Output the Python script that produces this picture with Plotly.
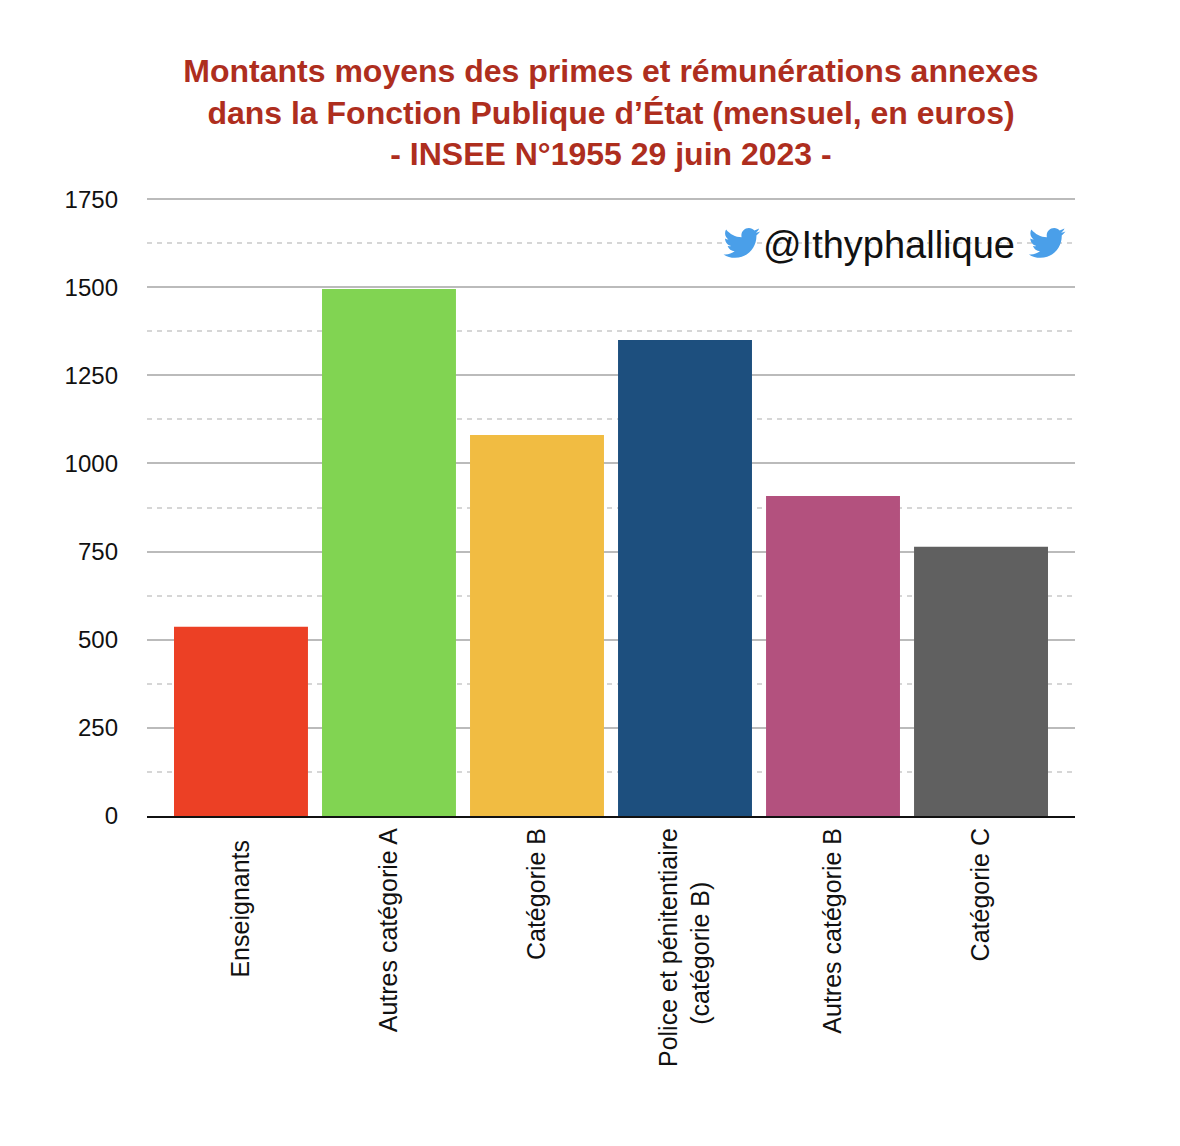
"""
Primes et rémunérations annexes moyennes dans la FPE (INSEE N°1955).
"""

import base64
import plotly.graph_objects as go

PAD = '\u00a0'  # non-breaking space, used to shift rotated labels off the axis

categories = ['Enseignants' + PAD + '\u2009', 'Autres catégorie A', 'Catégorie B',
              'Police et pénitentiaire<br>(catégorie B)' + PAD * 7 + '\u2009',
              'Autres catégorie B', 'Catégorie C']
montants = [537, 1495, 1081, 1350, 908, 764]
couleurs = ['#EC4025', '#81D452', '#F1BC42', '#1D4F7E', '#B3517E', '#606060']
y_ticks = [0, 250, 500, 750, 1000, 1250, 1500, 1750]

TITLE = ("Montants moyens des primes et rémunérations annexes<br>"
         "dans la Fonction Publique d’État (mensuel, en euros)<br>"
         "- INSEE N°1955 29 juin 2023 -")
HANDLE = '@Ithyphallique'

# twitter bird (font awesome path), embedded as data uri
BIRD = ('<svg xmlns="http://www.w3.org/2000/svg" width="512" height="450" '
        'viewBox="0 30 512 450">'
        '<path fill="#4A9FE9" d="M459.37 151.716c.325 4.548.325 9.097.325 13.645 '
        '0 138.72-105.583 298.558-298.558 298.558-59.452 0-114.68-17.219-161.137-47.106 '
        '8.447.974 16.568 1.299 25.34 1.299 49.055 0 94.213-16.568 130.274-44.832-46.132'
        '-.975-84.792-31.188-98.112-72.772 6.498.974 12.995 1.624 19.818 1.624 9.421 0 '
        '18.843-1.3 27.614-3.573-48.081-9.747-84.143-51.98-84.143-102.985v-1.299c13.969 '
        '7.797 30.214 12.67 47.431 13.319-28.264-18.843-46.781-51.005-46.781-87.391 '
        '0-19.492 5.197-37.36 14.294-52.954 51.655 63.675 129.3 105.258 216.365 '
        '109.807-1.624-7.797-2.599-15.918-2.599-24.04 0-57.828 46.782-104.934 '
        '104.934-104.934 30.213 0 57.502 12.67 76.67 33.137 23.715-4.548 46.456-13.32 '
        '66.599-25.34-7.798 24.366-24.366 44.833-46.132 57.827 21.117-2.273 41.584-8.122 '
        '60.426-16.243-14.292 20.791-32.161 39.308-52.628 54.253z"/></svg>')
bird_src = 'data:image/svg+xml;base64,' + base64.b64encode(BIRD.encode()).decode()

fig = go.Figure(go.Bar(
    x=categories,
    y=montants,
    marker_color=couleurs,
    marker_line_width=0,
    width=0.905,
    hoverinfo='skip',
))

fig.update_layout(
    width=1180,
    height=1146,
    # top range is padded a little so the 1750 gridline is not clipped
    margin=dict(l=139, r=113, t=189, b=338),
    paper_bgcolor='white',
    plot_bgcolor='white',
    font=dict(family='Liberation Sans, Arial, sans-serif', color='#111111'),
    showlegend=False,
    title=dict(
        text=TITLE,
        font=dict(size=32, color='#AE2E1E', family='Liberation Sans, Arial, sans-serif',
                  weight='bold'),
        x=0.511, xanchor='center',
        y=0.9355, yanchor='top',
    ),
)

fig.update_xaxes(
    range=[-0.635, 5.635],
    tickangle=-90,
    tickfont=dict(size=25, color='#111111'),
    showline=True, linecolor='#111111', linewidth=2,
    ticks='', showgrid=False,
)

fig.update_yaxes(
    range=[0, 1756],
    tickvals=y_ticks,
    tickfont=dict(size=24, color='#111111'),
    ticklabelstandoff=28,
    showgrid=True, gridcolor='#BBBBBB', gridwidth=2,
    minor=dict(dtick=125, showgrid=True, gridcolor='#D6D6D6', gridwidth=2,
               griddash='5px,5px'),
    zeroline=False,
    showline=False, ticks='',
)

# white box behind the handle (hides the dotted line, stays under the birds)
fig.add_shape(type='rect', xref='paper', yref='paper',
              x0=0.612, x1=1.0, y0=0.893, y1=0.955,
              fillcolor='white', line_width=0, layer='between')

fig.add_annotation(
    text=HANDLE, xref='paper', yref='paper',
    x=0.80, y=0.922, xanchor='center', yanchor='middle',
    showarrow=False,
    font=dict(size=38, color='#111111', family='Liberation Sans, Arial, sans-serif'),
)

for xb in [0.641, 0.970]:
    fig.add_layout_image(
        source=bird_src, xref='paper', yref='paper',
        x=xb, y=0.926, sizex=0.043, sizey=0.052,
        xanchor='center', yanchor='middle', sizing='contain', layer='above',
    )

fig.write_html('out.html', config={'displayModeBar': False})
